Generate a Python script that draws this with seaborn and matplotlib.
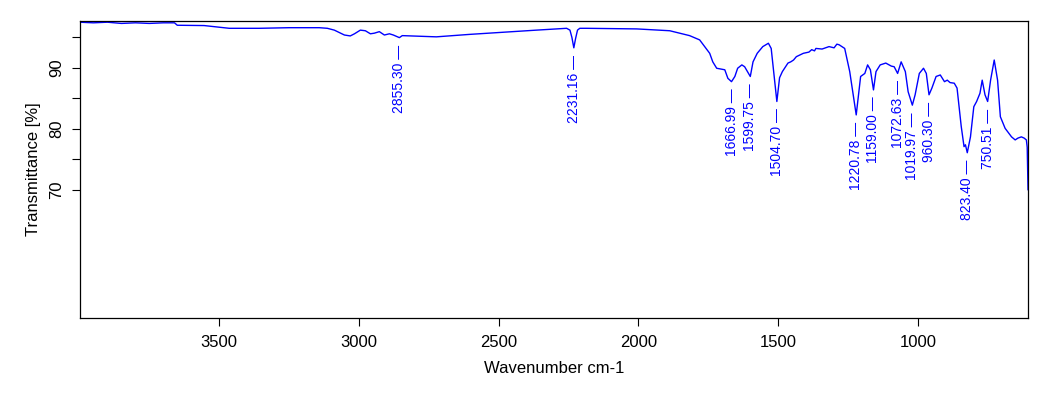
import matplotlib
matplotlib.use("Agg")
import matplotlib.pyplot as plt
import seaborn as sns
import numpy as np
import pandas as pd

# IR spectrum
wavenumber = [4000, 3950, 3900, 3850, 3800, 3750, 3700, 3660, 3650, 3554, 3464, 3357, 3249, 3142, 3113,
              3088, 3052, 3031, 3016, 2995, 2977, 2959, 2945, 2927, 2909, 2891, 2877, 2855.30, 2845,
              2723, 2605, 2486, 2365, 2257, 2245, 2238, 2231.16, 2225, 2218, 2210, 2186, 2006, 1888,
              1817, 1781, 1745, 1734, 1720, 1702, 1691, 1680, 1666.99, 1655, 1645, 1630, 1620, 1599.75,
              1590, 1575, 1555, 1535, 1525, 1504.70, 1495, 1485, 1465, 1455, 1445, 1435, 1410, 1390,
              1380, 1370, 1365, 1343, 1318, 1300, 1290, 1282, 1262, 1244, 1220.78, 1205, 1190, 1180,
              1170, 1159.00, 1150, 1135, 1115, 1095, 1085, 1072.63, 1060, 1045, 1035, 1019.97, 1010,
              995, 980, 970, 960.30, 950, 935, 920, 905, 895, 885, 870, 860, 845, 835, 830, 823.40,
              812, 800, 790, 778, 770, 760, 750.51, 740, 727, 715, 705, 688, 665, 652, 642, 630, 620,
              612, 609, 606]
transmittance = [97.5, 97.4, 97.5, 97.3, 97.4, 97.3, 97.4, 97.4, 97.0, 96.95, 96.5, 96.5, 96.6, 96.6, 96.5,
                 96.2, 95.4, 95.25, 95.6, 96.2, 96.1, 95.6, 95.7, 95.95, 95.4, 95.6, 95.4, 94.97, 95.3,
                 95.1, 95.5, 95.85, 96.2, 96.5, 96.2, 95.0, 93.3, 94.8, 96.2, 96.5, 96.5, 96.4, 96.1,
                 95.3, 94.6, 92.4, 91.0, 89.95, 89.8, 89.7, 88.3, 87.75, 88.6, 89.95, 90.5, 90.2, 88.6,
                 91.0, 92.4, 93.5, 94.05, 93.2, 84.5, 88.4, 89.4, 90.8, 91.0, 91.3, 91.85, 92.4, 92.6,
                 93.0, 92.8, 93.2, 93.1, 93.5, 93.3, 93.9, 93.8, 93.2, 89.4, 82.3, 88.6, 89.1, 90.5,
                 89.7, 86.4, 89.4, 90.5, 90.8, 90.3, 90.2, 89.1, 91.0, 89.4, 86.1, 83.9, 85.6,
                 89.1, 89.95, 89.1, 85.6, 86.7, 88.6, 88.85, 87.75, 88.0, 87.6, 87.5, 86.7, 80.4, 77.1, 77.4, 76.1,
                 78.7, 83.65, 84.5, 85.85, 88.0, 85.6, 84.5, 88.0, 91.3, 88.0, 82.0, 80.1, 78.7, 78.2, 78.5, 78.7, 78.5,
                 78.2, 77.0, 70.0]

peak_wavenumbers = [2855.30, 2231.16, 1666.99, 1599.75, 1504.70, 1220.78, 1159.00, 1072.63,
                    1019.97, 960.30, 823.40, 750.51]
peak_labels = ["2855.30", "2231.16", "1666.99", "1599.75", "1504.70", "1220.78", "1159.00", "1072.63",
               "1019.97", "960.30", "823.40", "750.51"]

x_ticks = [3500, 3000, 2500, 2000, 1500, 1000]
y_ticks = [70, 75, 80, 85, 90, 95]
y_tick_labels = ["70", "", "80", "", "90", ""]

sns.set_style("ticks")
plt.rcParams['font.family'] = ['Liberation Sans', 'DejaVu Sans']

fig = plt.figure(figsize=(10.57, 3.93), dpi=100)
ax = fig.add_axes([0.0757, 0.1908, 0.8969, 0.7558])

df = pd.DataFrame({"wn": wavenumber, "T": transmittance})
sns.lineplot(data=df, x="wn", y="T", color="#0000ff", lw=1.0, ax=ax, sort=False)

# peak annotations below each dip
wn_sorted = np.array(wavenumber)[::-1]
t_sorted = np.array(transmittance)[::-1]
for p, lab in zip(peak_wavenumbers, peak_labels):
    t = np.interp(p, wn_sorted, t_sorted)
    ax.annotate(lab + " \u2014", xy=(p, t), xytext=(0, -5), textcoords="offset points",
                rotation=90, ha="center", va="top", color="#0000ff", fontsize=10)

ax.set_xlim(3998, 606)
ax.set_ylim(49, 97.7)
ax.set_xticks(x_ticks)
ax.set_yticks(y_ticks)
ax.set_yticklabels(y_tick_labels, rotation=90, va="center")
ax.tick_params(axis="both", direction="out", length=5.5, width=0.8, labelsize=12,
               color="black", labelcolor="black")
ax.tick_params(axis="x", pad=7)
ax.tick_params(axis="y", pad=6)
for s in ax.spines.values():
    s.set_color("black")
    s.set_linewidth(0.9)
    s.set_visible(True)

ax.set_xlabel("Wavenumber cm-1", fontsize=12, labelpad=8, color="black")
ax.set_ylabel("Transmittance [%]", fontsize=12, labelpad=6, color="black")

fig.savefig("out.png", dpi=100)
